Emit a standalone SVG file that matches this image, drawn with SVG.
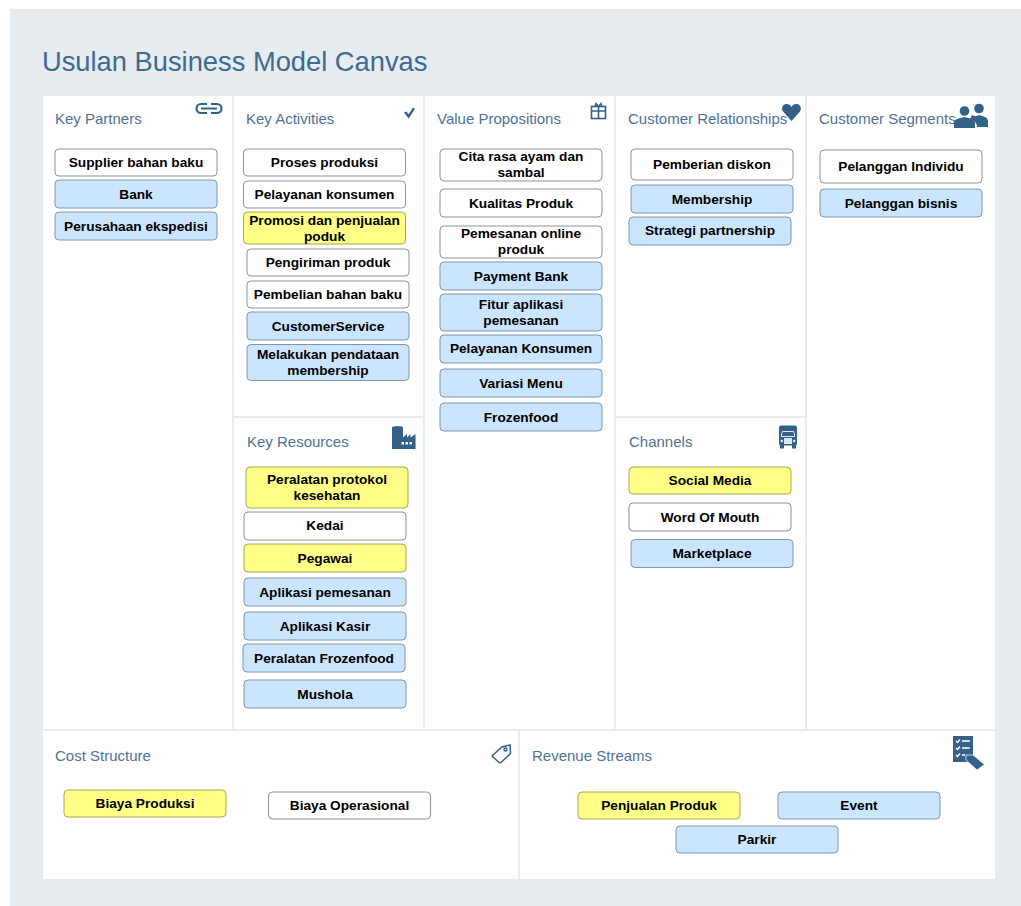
<svg xmlns="http://www.w3.org/2000/svg" width="1021" height="906" viewBox="0 0 1021 906">
<style>
.cell{fill:#fff}
.h{font:15px "Liberation Sans",Arial,sans-serif;fill:#4f7296}
.t{font:bold 13.7px "Liberation Sans",Arial,sans-serif;fill:#000;text-anchor:middle}
.n{stroke:#8a949c;stroke-width:1}
.w{fill:#fff}.b{fill:#cce5ff;stroke:#7f96ac}.y{fill:#ffff88;stroke:#a8a850}
.i{fill:#336188}.o{fill:none;stroke:#336188;stroke-width:1.6}
</style>
<rect width="1021" height="906" fill="#fff"/>
<rect x="10" y="9" width="1011" height="897" fill="#e6ecef"/>
<text x="42" y="71" style="font:27.300px 'Liberation Sans',Arial,sans-serif;fill:#3f6a91">Usulan Business Model Canvas</text>

<g id="cells">
<rect class="cell" x="43" y="96" width="189" height="633"/>
<rect class="cell" x="234" y="96" width="189" height="320"/>
<rect class="cell" x="234" y="418" width="189" height="311"/>
<rect class="cell" x="425" y="96" width="189" height="633"/>
<rect class="cell" x="616" y="96" width="189" height="320"/>
<rect class="cell" x="616" y="418" width="189" height="311"/>
<rect class="cell" x="807" y="96" width="188" height="633"/>
<rect class="cell" x="43" y="731" width="475" height="148"/>
<rect class="cell" x="520" y="731" width="475" height="148"/>
</g>

<g id="headers">
<text class="h" x="55" y="123.500">Key Partners</text>
<text class="h" x="246" y="123.500">Key Activities</text>
<text class="h" x="437" y="123.500">Value Propositions</text>
<text class="h" x="628" y="123.500">Customer Relationships</text>
<text class="h" x="819" y="123.500">Customer Segments</text>
<text class="h" x="247" y="446.500">Key Resources</text>
<text class="h" x="629" y="446.500">Channels</text>
<text class="h" x="55" y="760.500">Cost Structure</text>
<text class="h" x="532" y="760.500">Revenue Streams</text>
</g>

<g id="icons">
<g id="icon-link" fill="none" stroke="#336188" stroke-width="2.200"><path d="M207 104h-6a4.500 4.500 0 0 0 0 9h6M211 104h6a4.500 4.500 0 0 1 0 9h-6M201 108.500h16"/></g>
<path id="icon-check" d="M404 112.500l2.500-1 2 3 4.500-7 2 1.200-6.300 9.800z" class="i"/>
<g id="icon-gift" class="o"><rect x="591.500" y="106.500" width="14" height="12"/><path d="M591.500 111h14M598.500 106.500v12M595 106.500l1-3 2.500 3 2.500-3 1 3"/></g>
<path id="icon-heart" class="i" d="M791.500 121l-8.500-9.500c-2-3-.5-7 3-7.500 2.500-.3 4.500 1 5.500 3 1-2 3-3.300 5.500-3 3.500.5 5 4.500 3 7.500z"/>
<g id="icon-people" class="i"><circle cx="964.500" cy="111" r="4.800"/><circle cx="979" cy="108.500" r="4.800"/><path d="M954 128v-5c0-4 6-5 10.500-6 4.500 1 10.500 2 10.500 6v5z"/><path d="M972 115c2 1.500 4.500 1.500 7 0 3 1 9 2 9 6v6h-11c0-4-3-6.500-7-8z"/></g>
<g id="icon-factory" class="i"><ellipse cx="397.500" cy="427.500" rx="5.500" ry="1.500"/><path d="M392 428h11v9.500l4-3.500v3.500l3.500-3.500v3.500l5-3.500v15H392z"/></g>
<g id="icon-factory-win" fill="#fff"><rect x="401.500" y="442" width="2.500" height="2.500"/><rect x="405.500" y="442" width="2.500" height="2.500"/><rect x="409.500" y="442" width="2.500" height="2.500"/></g>
<g id="icon-truck"><rect x="779" y="425.500" width="18" height="20" rx="2" class="i"/><rect x="780" y="445" width="4" height="3.500" class="i"/><rect x="792" y="445" width="4" height="3.500" class="i"/><path d="M781.500 434l1-2.500h11l1 2.500v2.500h-13z" fill="none" stroke="#fff" stroke-width="1" opacity=".85"/><rect x="784" y="438" width="8" height="6" fill="#dfe8ee"/><circle cx="781.800" cy="441" r="1.200" fill="#fff"/><circle cx="794.200" cy="441" r="1.200" fill="#fff"/></g>
<g id="icon-tag" class="o" style="stroke-width:1.500"><path d="M493 755l9-8 8-2 .5 8.500-9 8.500c-1 1-2 1-3 0l-5.500-5c-1-1-1-2 0-2z"/><circle cx="505.500" cy="749.500" r="1.500"/></g>
<g id="icon-list"><rect x="953" y="736" width="20" height="26" class="i"/><path d="M956 741l1.500 1.500 2.500-3M962 741h8M956 748l1.500 1.500 2.500-3M962 748h8M956 755l1.500 1.500 2.500-3M962 755h3" fill="none" stroke="#fff" stroke-width="1.300"/><path d="M966 755h7l11.500 9.500-7.500 5.500-11-10z" class="i" stroke="#fff" stroke-width=".7"/></g>
</g>

<g id="nodes">
<g id="n1"><rect class="n w" x="55" y="149" width="162" height="27" rx="4"/><text class="t" x="136" y="167">Supplier bahan baku</text></g>
<g id="n2"><rect class="n b" x="55" y="180" width="162" height="28" rx="4"/><text class="t" x="136" y="199">Bank</text></g>
<g id="n3"><rect class="n b" x="55" y="212" width="162" height="28" rx="4"/><text class="t" x="136" y="231">Perusahaan ekspedisi</text></g>

<g id="n4"><rect class="n w" x="243.500" y="149" width="162" height="27" rx="4"/><text class="t" x="324.500" y="167">Proses produksi</text></g>
<g id="n5"><rect class="n w" x="243.500" y="181" width="162" height="27" rx="4"/><text class="t" x="324.500" y="199">Pelayanan konsumen</text></g>
<g id="n6"><rect class="n y" x="243.500" y="212" width="162" height="32" rx="4"/><text class="t" x="324.500" y="225">Promosi dan penjualan</text><text class="t" x="324.500" y="241">poduk</text></g>
<g id="n7"><rect class="n w" x="247" y="249" width="162" height="27" rx="4"/><text class="t" x="328" y="267">Pengiriman produk</text></g>
<g id="n8"><rect class="n w" x="247" y="281" width="162" height="27" rx="4"/><text class="t" x="328" y="299">Pembelian bahan baku</text></g>
<g id="n9"><rect class="n b" x="247" y="312" width="162" height="28" rx="4"/><text class="t" x="328" y="331">CustomerService</text></g>
<g id="n10"><rect class="n b" x="247" y="344.500" width="162" height="36" rx="4"/><text class="t" x="328" y="359">Melakukan pendataan</text><text class="t" x="328" y="375">membership</text></g>

<g id="n11"><rect class="n y" x="246" y="467" width="162" height="41" rx="4"/><text class="t" x="327" y="484">Peralatan protokol</text><text class="t" x="327" y="500">kesehatan</text></g>
<g id="n12"><rect class="n w" x="244" y="512" width="162" height="28" rx="4"/><text class="t" x="325" y="530">Kedai</text></g>
<g id="n13"><rect class="n y" x="244" y="544" width="162" height="28" rx="4"/><text class="t" x="325" y="562.500">Pegawai</text></g>
<g id="n14"><rect class="n b" x="244" y="578" width="162" height="28" rx="4"/><text class="t" x="325" y="597">Aplikasi pemesanan</text></g>
<g id="n15"><rect class="n b" x="244" y="612" width="162" height="28" rx="4"/><text class="t" x="325" y="631">Aplikasi Kasir</text></g>
<g id="n16"><rect class="n b" x="243" y="644" width="162" height="28" rx="4"/><text class="t" x="324" y="663">Peralatan Frozenfood</text></g>
<g id="n17"><rect class="n b" x="244" y="680" width="162" height="28" rx="4"/><text class="t" x="325" y="699">Mushola</text></g>

<g id="n18"><rect class="n w" x="440" y="149" width="162" height="32" rx="4"/><text class="t" x="521" y="161">Cita rasa ayam dan</text><text class="t" x="521" y="177">sambal</text></g>
<g id="n19"><rect class="n w" x="440" y="189" width="162" height="28" rx="4"/><text class="t" x="521" y="207.500">Kualitas Produk</text></g>
<g id="n20"><rect class="n w" x="440" y="226" width="162" height="32" rx="4"/><text class="t" x="521" y="238">Pemesanan online</text><text class="t" x="521" y="254">produk</text></g>
<g id="n21"><rect class="n b" x="440" y="262" width="162" height="28" rx="4"/><text class="t" x="521" y="281">Payment Bank</text></g>
<g id="n22"><rect class="n b" x="440" y="294" width="162" height="37" rx="4"/><text class="t" x="521" y="309">Fitur aplikasi</text><text class="t" x="521" y="325">pemesanan</text></g>
<g id="n23"><rect class="n b" x="440" y="335" width="162" height="28" rx="4"/><text class="t" x="521" y="353">Pelayanan Konsumen</text></g>
<g id="n24"><rect class="n b" x="440" y="369" width="162" height="28" rx="4"/><text class="t" x="521" y="387.500">Variasi Menu</text></g>
<g id="n25"><rect class="n b" x="440" y="403" width="162" height="28" rx="4"/><text class="t" x="521" y="421.500">Frozenfood</text></g>

<g id="n26"><rect class="n w" x="631" y="149" width="162" height="31" rx="4"/><text class="t" x="712" y="169">Pemberian diskon</text></g>
<g id="n27"><rect class="n b" x="631" y="185" width="162" height="28" rx="4"/><text class="t" x="712" y="203.500">Membership</text></g>
<g id="n28"><rect class="n b" x="629" y="217" width="162" height="28" rx="4"/><text class="t" x="710" y="235">Strategi partnership</text></g>

<g id="n29"><rect class="n y" x="629" y="467" width="162" height="27" rx="4"/><text class="t" x="710" y="485">Social Media</text></g>
<g id="n30"><rect class="n w" x="629" y="503" width="162" height="28" rx="4"/><text class="t" x="710" y="521.500">Word Of Mouth</text></g>
<g id="n31"><rect class="n b" x="631" y="539.500" width="162" height="28" rx="4"/><text class="t" x="712" y="558">Marketplace</text></g>

<g id="n32"><rect class="n w" x="820" y="150" width="162" height="33" rx="4"/><text class="t" x="901" y="171">Pelanggan Individu</text></g>
<g id="n33"><rect class="n b" x="820" y="189" width="162" height="28" rx="4"/><text class="t" x="901" y="208">Pelanggan bisnis</text></g>

<g id="n34"><rect class="n y" x="64" y="790" width="162" height="27" rx="4"/><text class="t" x="145" y="808">Biaya Produksi</text></g>
<g id="n35"><rect class="n w" x="268.500" y="792" width="162" height="27" rx="4"/><text class="t" x="349.500" y="810">Biaya Operasional</text></g>
<g id="n36"><rect class="n y" x="578" y="792" width="162" height="27" rx="4"/><text class="t" x="659" y="810">Penjualan Produk</text></g>
<g id="n37"><rect class="n b" x="778" y="792" width="162" height="27" rx="4"/><text class="t" x="859" y="810">Event</text></g>
<g id="n38"><rect class="n b" x="676" y="826" width="162" height="27" rx="4"/><text class="t" x="757" y="844">Parkir</text></g>
</g>
<g id="connectors"/>
</svg>
